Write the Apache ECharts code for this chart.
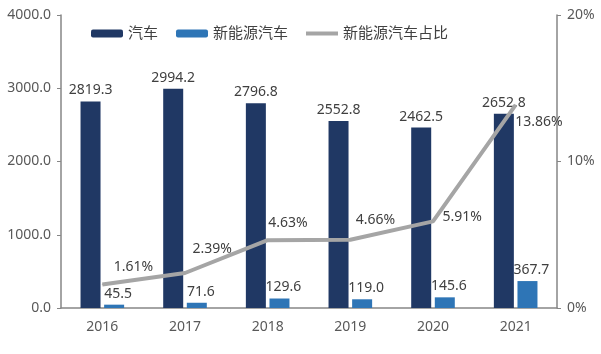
<!DOCTYPE html>
<html>
<head>
<meta charset="utf-8">
<script src="https://cdn.jsdelivr.net/npm/echarts@6/dist/echarts.min.js"></script>
<style>
  html, body { margin: 0; padding: 0; background: #fff; }
  #main { width: 601px; height: 354px; }
</style>
</head>
<body>
<div id="main"></div>
<script>
const years = ['2016', '2017', '2018', '2019', '2020', '2021']
const cars = [2819.3, 2994.2, 2796.8, 2552.8, 2462.5, 2652.8]
const nevCars = [45.5, 71.6, 129.6, 119.0, 145.6, 367.7]
const nevShare = [1.61, 2.39, 4.63, 4.66, 5.91, 13.86]
// 占比标签的偏移 (相对于折线点)
const shareLabelOffsets = [[11, -17], [7, -24], [0, -17], [5, -20], [9, -4], [-1, 17]]

const textColor = '#404040'
const axisColor = '#868686'
const font = 'Noto Sans, Noto Sans CJK SC, sans-serif'

const myChart = echarts.init(document.getElementById('main'))

myChart.setOption({
  animation: false,
  textStyle: { fontFamily: font },
  grid: { left: 61, right: 44, top: 15, bottom: 46 },
  legend: {
    left: 86,
    top: 21,
    itemWidth: 32,
    itemHeight: 8,
    itemGap: 18,
    textStyle: { fontSize: 15, color: textColor, fontFamily: font },
    data: [
      '汽车',
      '新能源汽车',
      { name: '新能源汽车占比', icon: 'path://M0,0H32V4H0Z', itemStyle: { color: '#A5A5A5' } }
    ]
  },
  xAxis: {
    type: 'category',
    data: years,
    axisLine: { lineStyle: { color: axisColor, width: 1.5 } },
    axisTick: { lineStyle: { color: axisColor } },
    axisLabel: { fontSize: 14, color: '#595959', margin: 12 }
  },
  yAxis: [{
    type: 'value',
    min: 0,
    max: 4000,
    interval: 1000,
    splitLine: { show: false },
    axisLine: { show: true, lineStyle: { color: axisColor, width: 1.5 } },
    axisTick: { show: true, length: 4, lineStyle: { color: axisColor } },
    axisLabel: { fontSize: 14, color: '#595959', margin: 10, formatter: v => v.toFixed(1) }
  }, {
    type: 'value',
    min: 0,
    max: 20,
    interval: 10,
    splitLine: { show: false },
    axisLine: { show: true, lineStyle: { color: axisColor, width: 1.5 } },
    axisTick: { show: true, length: 4, lineStyle: { color: axisColor } },
    axisLabel: { fontSize: 14, color: '#595959', margin: 10, formatter: v => v + '%' }
  }],
  series: [{
    name: '汽车',
    type: 'bar',
    data: cars,
    barWidth: 20,
    barGap: '18%',
    itemStyle: { color: '#203864' },
    label: {
      show: true, position: 'top', distance: 4,
      fontSize: 14, color: textColor,
      formatter: p => p.value.toFixed(1)
    }
  }, {
    name: '新能源汽车',
    type: 'bar',
    data: nevCars,
    barWidth: 20,
    z: 3,
    itemStyle: { color: '#2E75B6' },
    label: {
      show: true, position: 'top', distance: 4, offset: [4, 0],
      fontSize: 14, color: textColor,
      formatter: p => p.value.toFixed(1)
    }
  }, {
    name: '新能源汽车占比',
    type: 'line',
    yAxisIndex: 1,
    symbol: 'circle',
    symbolSize: 1,
    showSymbol: true,
    lineStyle: { color: '#A5A5A5', width: 4 },
    itemStyle: { color: '#A5A5A5' },
    data: nevShare.map((v, i) => ({
      value: v,
      label: { offset: shareLabelOffsets[i] }
    })),
    label: {
      show: true, position: 'right', distance: 0,
      fontSize: 14, color: textColor,
      formatter: p => p.value.toFixed(2) + '%'
    },
    z: 5
  }]
})
</script>
</body>
</html>
